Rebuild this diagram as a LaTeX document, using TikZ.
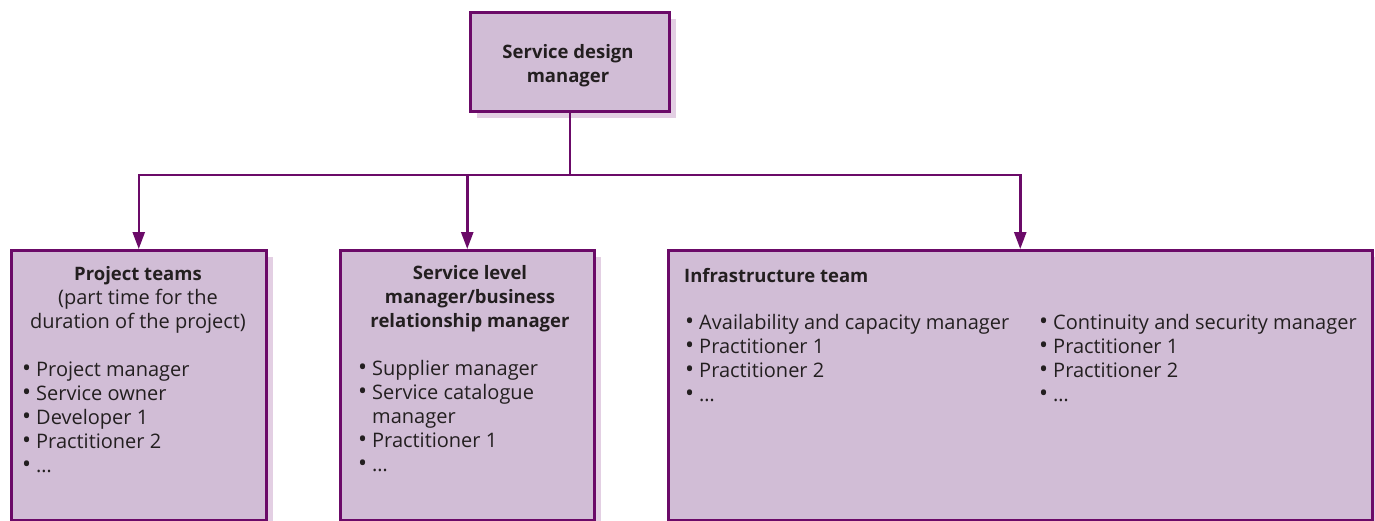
\documentclass[tikz,border=0pt]{standalone}
\usepackage{fontspec}
\setmainfont{Open Sans}
\usetikzlibrary{arrows.meta,shadows}
\definecolor{boxfill}{HTML}{D1BDD6}
\definecolor{boxline}{HTML}{6B0A68}
\definecolor{shadowc}{HTML}{E3CFE3}
\definecolor{txt}{HTML}{231F20}
\newcommand\bul{\makebox[14pt][l]{\raisebox{-0.6pt}{\fontsize{24}{24}\selectfont •}}}
\newcommand\hd[1]{{\fontsize{18.5}{24}\selectfont\bfseries #1}}
\begin{document}
\begin{tikzpicture}[x=1pt,y=-1pt,
  box/.style={draw=boxline, fill=boxfill, line width=2.5pt, rectangle, inner sep=0pt,
    anchor=north west,
    general shadow={fill=shadowc, shadow xshift=7pt, shadow yshift=-7pt}},
  conn/.style={draw=boxline, line width=2.5pt},
  arr/.style={conn, -{Triangle[length=17pt,width=12pt]}},
  tx/.style={text=txt, font=\fontsize{20}{24}\selectfont, inner sep=0pt}]
\useasboundingbox (0,0) rectangle (1375,520);

\node[box, minimum width=199pt, minimum height=99pt] (top) at (469,11) {};
\node[box, minimum width=255pt, minimum height=270pt] (b1) at (10,249) {};
\node[box, minimum width=254pt, minimum height=270pt] (b2) at (339,249) {};
\node[box, minimum width=704pt, minimum height=270pt] (b3) at (667,249) {};

\coordinate (hub) at (top.south |- 0,175);
\draw[conn] (top.south) -- (hub);
\draw[arr] (hub) -| (b1.north);
\draw[arr] (hub) -| (b3.north);
\draw[arr] (hub -| b2.north) -- (b2.north);

\node[tx, align=center, anchor=base] (ttop) at (568,82) {\hd{Service design}\\\hd{manager}};

\node[tx, align=center, anchor=base] (t1) at (138,328) {\hd{Project teams}\\(part time for the\\duration of the project)};
\node[tx, align=left, anchor=base west] (l1) at (22,472) {\bul Project manager\\\bul Service owner\\\bul Developer 1\\\bul Practitioner 2\\\bul …};

\node[tx, align=center, anchor=base] (t2) at (470,327) {\hd{Service level}\\\hd{manager/business}\\\hd{relationship manager}};
\node[tx, align=left, anchor=base west] (l2) at (358,471) {\bul Supplier manager\\\bul Service catalogue\\\hspace*{14pt}manager\\\bul Practitioner 1\\\bul …};

\node[tx, anchor=base west] (t3) at (684,282) {\hd{Infrastructure team}};
\node[tx, align=left, anchor=base west] (l3a) at (685,401) {\bul Availability and capacity manager\\\bul Practitioner 1\\\bul Practitioner 2\\\bul …};
\node[tx, align=left, anchor=base west] (l3b) at (1039,401) {\bul Continuity and security manager\\\bul Practitioner 1\\\bul Practitioner 2\\\bul …};
\end{tikzpicture}
\end{document}
